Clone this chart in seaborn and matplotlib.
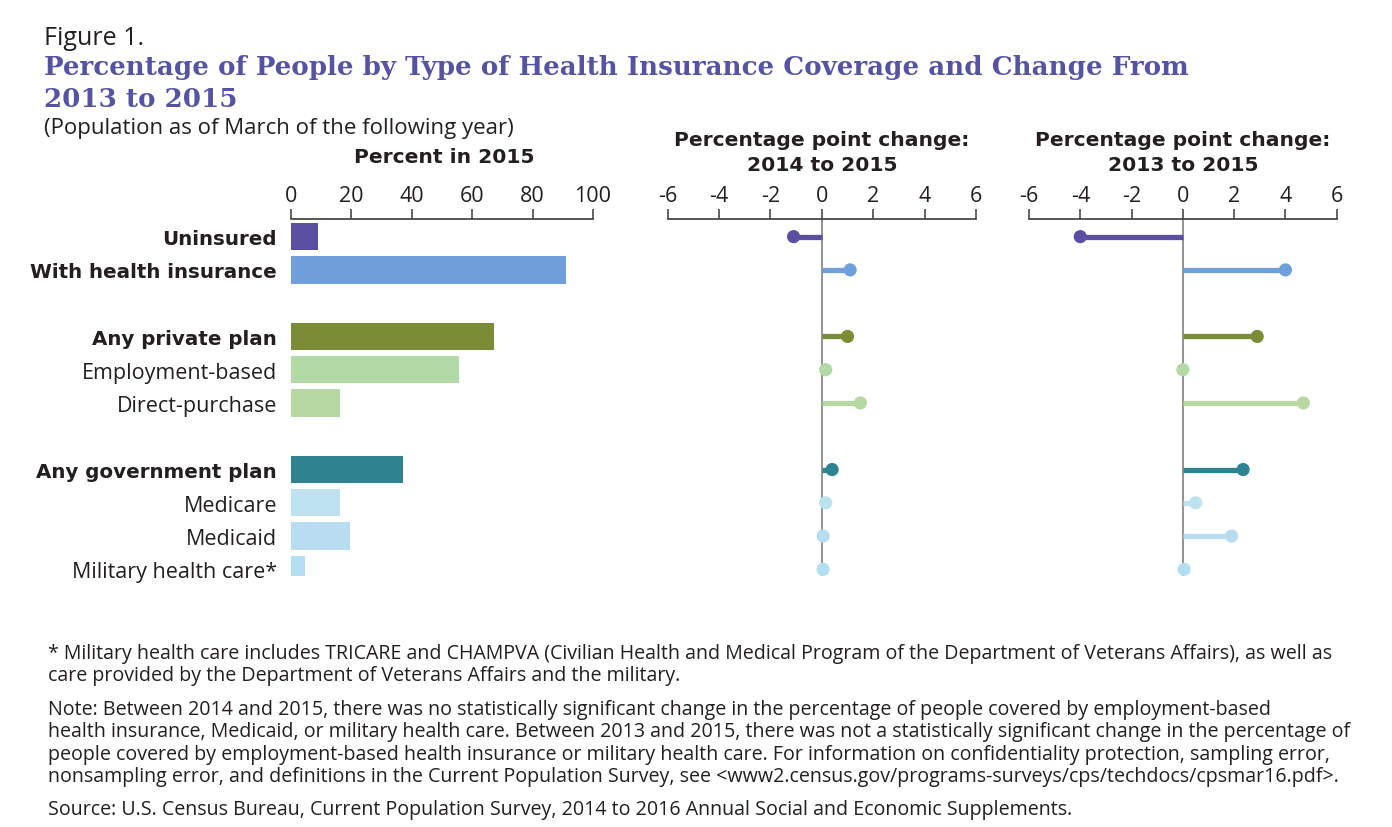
import matplotlib
matplotlib.use("Agg")
import matplotlib.pyplot as plt
import matplotlib.transforms as mtransforms
import seaborn as sns
import pandas as pd
import numpy as np

# ---------------- data ----------------
categories = ["Uninsured", "With health insurance",
              "Any private plan", "Employment-based", "Direct-purchase",
              "Any government plan", "Medicare", "Medicaid", "Military health care*"]
group_sizes = [2, 3, 4]
bold_labels = ["Uninsured", "With health insurance", "Any private plan", "Any government plan"]
percent_2015 = [9.1, 90.9, 67.2, 55.7, 16.3, 37.1, 16.3, 19.6, 4.7]
change_2014_2015 = [-1.1, 1.1, 1.0, 0.15, 1.5, 0.4, 0.15, 0.05, 0.05]
change_2013_2015 = [-4.0, 4.0, 2.9, 0.0, 4.7, 2.35, 0.5, 1.9, 0.05]
colors = ["#5a4fa0", "#6fa0dc", "#7a8c36", "#b3d9a6", "#b7d8a2",
          "#2e8391", "#bfe2f0", "#b9ddf0", "#b4def1"]
pct_ticks = [0, 20, 40, 60, 80, 100]
chg_ticks = [-6, -4, -2, 0, 2, 4, 6]

# row positions: groups separated by one empty row
pos = []
p = 0
for g in group_sizes:
    for _ in range(g):
        pos.append(p)
        p += 1
    p += 1

df = pd.DataFrame({"cat": categories, "pos": pos, "pct": percent_2015,
                   "c1": change_2014_2015, "c2": change_2013_2015, "color": colors})

sns.set_theme(style="white")
TXT = "#231f20"
BODY = ["Open Sans", "DejaVu Sans"]
BOLD = ["DejaVu Sans"]
plt.rcParams["font.family"] = BODY
plt.rcParams["text.color"] = TXT

W, H = 1392, 828
fig = plt.figure(figsize=(W / 100, H / 100), dpi=100)

def fx(px):
    return px / W

def fy(py):
    return 1 - py / H

top, bot = 220, 577
ax_h = (bot - top) / H
ax1 = fig.add_axes([fx(291), fy(bot), fx(593 - 291), ax_h])
ax2 = fig.add_axes([fx(667.7), fy(bot), fx(976 - 667.7), ax_h])
ax3 = fig.add_axes([fx(1029), fy(bot), fx(1336.7 - 1029), ax_h])

ylim = (10.2, -0.53)
pal = dict(zip(categories, colors))

# bars
sns.barplot(data=df, x="pct", y="pos", hue="cat", palette=pal,
            orient="h", native_scale=True, width=0.82, legend=False, ax=ax1,
            saturation=1, linewidth=0, dodge=False)
ax1.set_xlim(0, 100)
ax1.set_ylim(*ylim)
ax1.set_yticks(pos)
ax1.set_yticklabels(categories)
for lab in ax1.get_yticklabels():
    if lab.get_text() in bold_labels:
        lab.set_fontweight("bold")
        lab.set_family(BOLD)
        lab.set_fontsize(14.3)
    else:
        lab.set_fontsize(15.5)
    lab.set_color(TXT)
    if lab.get_text() == "With health insurance":
        lab.set_transform(lab.get_transform() +
                          mtransforms.ScaledTranslation(-6 / 100, 0, fig.dpi_scale_trans))
ax1.set_xticks(pct_ticks)

def lollipop(ax, col):
    ax.axvline(0, color="#8a8a8a", lw=1.3, zorder=1)
    ax.hlines(df["pos"], 0, df[col], colors=df["color"], lw=3.8, zorder=2)
    sns.scatterplot(data=df, x=col, y="pos", hue="cat", palette=pal,
                    s=90, linewidth=0, legend=False, ax=ax, zorder=3)
    ax.set_xlim(-6, 6)
    ax.set_ylim(*ylim)
    ax.set_yticks([])
    ax.set_xticks(chg_ticks)

lollipop(ax2, "c1")
lollipop(ax3, "c2")

for ax in (ax1, ax2, ax3):
    ax.set_xlabel("")
    ax.set_ylabel("")
    ax.xaxis.tick_top()
    for s in ("bottom", "left", "right"):
        ax.spines[s].set_visible(False)
    ax.spines["top"].set_color("#3a3a3a")
    ax.spines["top"].set_linewidth(1.2)
    ax.tick_params(axis="x", which="both", top=True, bottom=False, direction="out",
                   length=7, width=1.1, color="#3a3a3a", labelsize=15.5,
                   labelcolor=TXT, pad=2)
    ax.tick_params(axis="y", left=False, pad=4)
    ax.set_facecolor("none")

ax2.set_xticklabels([str(t) for t in chg_ticks])
ax3.set_xticklabels([str(t) for t in chg_ticks])

# ---------------- texts ----------------
fig.text(fx(44), fy(45), "Figure 1.", fontsize=18, color=TXT, va="baseline")
TITLE_C = "#5753a3"
fig.text(fx(44), fy(75), "Percentage of People by Type of Health Insurance Coverage and Change From",
         fontsize=18.8, fontweight="bold", color=TITLE_C, va="baseline",
         family=["DejaVu Serif"])
fig.text(fx(44), fy(107), "2013 to 2015", fontsize=18.8, fontweight="bold", color=TITLE_C,
         va="baseline", family=["DejaVu Serif"])
fig.text(fx(44), fy(134), "(Population as of March of the following year)",
         fontsize=16, color=TXT, va="baseline")

hk = dict(fontsize=14.6, fontweight="bold", ha="center", va="baseline", family=BOLD)
fig.text(fx(444), fy(163), "Percent in 2015", **hk)
fig.text(fx(822), fy(146), "Percentage point change:", **hk)
fig.text(fx(822), fy(171), "2014 to 2015", **hk)
fig.text(fx(1183), fy(146), "Percentage point change:", **hk)
fig.text(fx(1183), fy(171), "2013 to 2015", **hk)

foot = [
    (659, "* Military health care includes TRICARE and CHAMPVA (Civilian Health and Medical Program of the Department of Veterans Affairs), as well as"),
    (681, "care provided by the Department of Veterans Affairs and the military."),
    (715, "Note: Between 2014 and 2015, there was no statistically significant change in the percentage of people covered by employment-based"),
    (737, "health insurance, Medicaid, or military health care. Between 2013 and 2015, there was not a statistically significant change in the percentage of"),
    (760, "people covered by employment-based health insurance or military health care. For information on confidentiality protection, sampling error,"),
    (782, "nonsampling error, and definitions in the Current Population Survey, see <www2.census.gov/programs-surveys/cps/techdocs/cpsmar16.pdf>."),
    (815, "Source: U.S. Census Bureau, Current Population Survey, 2014 to 2016 Annual Social and Economic Supplements."),
]
for y, t in foot:
    fig.text(fx(48), fy(y), t, fontsize=14.1, color=TXT, va="baseline")

fig.savefig("out.png", dpi=100)
